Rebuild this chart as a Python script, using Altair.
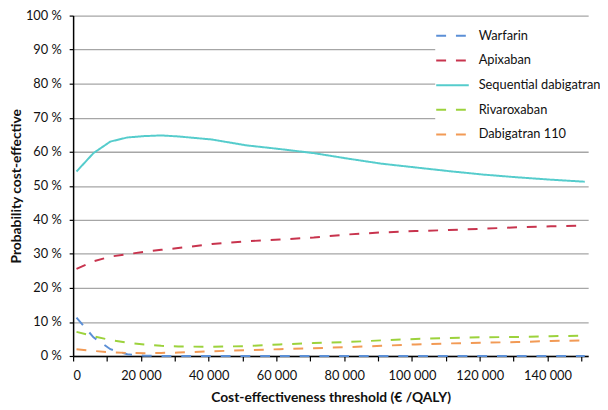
import altair as alt
import pandas as pd

x_vals = [1000, 6000, 11000, 16000, 21000, 26000, 31000, 41000, 51000, 61000,
          71000, 81000, 91000, 101000, 111000, 121000, 131000, 141000, 151000]

warfarin = [11.3, 5.5, 2.0, 0.5, 0.1, 0.0, 0.0, 0.0, 0.0, 0.0,
            0.0, 0.0, 0.0, 0.0, 0.0, 0.0, 0.0, 0.0, 0.0]
apixaban = [25.6, 27.8, 29.2, 29.9, 30.6, 31.2, 31.7, 32.9, 33.7, 34.2,
            34.8, 35.7, 36.3, 36.7, 37.0, 37.4, 37.8, 38.1, 38.3]
sequential = [54.2, 59.6, 63.0, 64.2, 64.6, 64.8, 64.5, 63.6, 61.9, 60.8,
              59.6, 58.0, 56.5, 55.4, 54.3, 53.3, 52.5, 51.8, 51.2]
rivaroxaban = [7.1, 5.8, 4.7, 3.9, 3.4, 3.0, 2.8, 2.7, 2.9, 3.4,
               3.8, 4.1, 4.6, 5.0, 5.3, 5.5, 5.6, 5.8, 6.0]
dabigatran110 = [2.0, 1.5, 1.1, 0.9, 0.8, 0.9, 1.0, 1.4, 1.7, 2.0,
                 2.3, 2.6, 3.0, 3.4, 3.7, 3.9, 4.1, 4.4, 4.6]

series_names = ["Warfarin", "Apixaban", "Sequential dabigatran", "Rivaroxaban", "Dabigatran 110"]
series_values = [warfarin, apixaban, sequential, rivaroxaban, dabigatran110]
colors = ["#5b8fd6", "#c8344e", "#55cccc", "#9cd23c", "#f29a55"]
dashes = [[10, 10], [10, 10], [1, 0], [10, 10], [10, 10]]

x_ticks = list(range(0, 150001, 10000))
y_ticks = list(range(0, 101, 10))

rows = []
for name, vals in zip(series_names, series_values):
    for xv, yv in zip(x_vals, vals):
        rows.append({"threshold": xv, "prob": yv, "treatment": name})
df = pd.DataFrame(rows)

font = "Lato"

legend_opts = dict(title=None, orient="none", legendX=367, legendY=3,
                   fillColor="white", padding=0, symbolType="stroke",
                   symbolSize=1089, symbolStrokeWidth=2, rowPadding=-9,
                   labelOffset=9, labelFontSize=13, labelFont=font,
                   labelColor="#111111", labelLimit=300)

chart = alt.Chart(df).mark_line(strokeWidth=2).encode(
    x=alt.X("threshold:Q",
            scale=alt.Scale(domain=[0, 152000], nice=False, zero=False),
            axis=alt.Axis(values=x_ticks, grid=False, tickSize=5, labelPadding=9,
                          labelExpr="datum.value % 20000 == 0 ? replace(format(datum.value, ','), ',', ' ') : ''",
                          title="Cost-effectiveness threshold (€ /QALY)", titlePadding=8)),
    y=alt.Y("prob:Q",
            scale=alt.Scale(domain=[0, 100], nice=False),
            axis=alt.Axis(values=y_ticks, grid=True, tickSize=4, labelPadding=8,
                          labelExpr="datum.value + ' %'",
                          title="Probability cost-effective", titlePadding=2)),
    color=alt.Color("treatment:N",
                    scale=alt.Scale(domain=series_names, range=colors),
                    legend=alt.Legend(**legend_opts)),
    strokeDash=alt.StrokeDash("treatment:N",
                              scale=alt.Scale(domain=series_names, range=dashes),
                              legend=alt.Legend(**legend_opts)),
).properties(
    width=522, height=345,
    autosize=alt.AutoSizeParams(type="none"),
    padding={"left": 66, "top": 5, "right": 12, "bottom": 50},
).configure_view(
    stroke=None
).configure_axis(
    labelFont=font, labelFontSize=13, labelColor="#111111",
    titleFont=font, titleFontSize=14, titleFontWeight="bold", titleColor="#111111",
    domainColor="#000000", domainWidth=1.5, tickColor="#000000", tickWidth=1.2,
    gridColor="#a6a6a6", gridWidth=1.3
)

chart.save("out.html", embed_options={"renderer": "svg", "actions": False})
